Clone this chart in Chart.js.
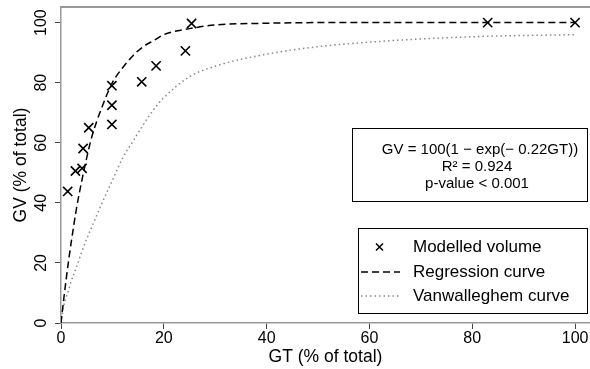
<!DOCTYPE html>
<html>
<head>
<meta charset="utf-8">
<script src="https://cdn.jsdelivr.net/npm/chart.js@4/dist/chart.umd.min.js"></script>
<style>
  html, body { margin: 0; padding: 0; background: #fff; }
  #wrap { width: 590px; height: 369px; }
</style>
</head>
<body>
<div id="wrap"><canvas id="graphic" width="590" height="369"></canvas></div>
<script>
// modelled volumes (GT %, GV %)
const gtModelled = [1.3, 2.8, 4.1, 4.3, 5.4, 9.9, 9.9, 9.9, 15.7, 18.5, 24.2, 25.4, 83, 100];
const gvModelled = [43.8, 50.6, 51.5, 58.1, 65, 66.1, 72.5, 79, 80.3, 85.6, 90.6, 99.7, 100, 100];

// curves
const curveGT = [0, 0.5, 1, 1.5, 2, 3, 4, 5, 6, 8, 10, 12, 14, 16, 18, 20, 25, 30, 40, 50, 60, 80, 100];
const regressionGV = [0, 7.5, 14.5, 21, 27, 38, 47, 55, 62, 72, 80, 85, 89, 92, 94, 96, 98, 99.2, 99.8, 100, 100, 100, 100];
const vanwallGV = [0, 5.5, 8.5, 11, 14, 18.5, 23.5, 28, 32, 40, 47.5, 55, 60.5, 66, 71, 75, 82, 85.5, 89.5, 92, 93.5, 95.3, 96];

const xTicks = [0, 20, 40, 60, 80, 100];
const yTicks = [0, 20, 40, 60, 80, 100];

const legendLabels = ['Modelled volume', 'Regression curve', 'Vanwalleghem curve'];
const noteLines = ['GV = 100(1 \u2212 exp(\u2212 0.22GT))', 'R\u00b2 = 0.924', 'p-value < 0.001'];

const FONT = '"Liberation Sans", Arial, sans-serif';

const pts = (xs, ys) => xs.map((x, i) => ({ x: x, y: ys[i] }));

// no overflow padding for edge tick labels
const noPad = s => { s.paddingLeft = 0; s.paddingRight = 0; s.paddingTop = 0; s.paddingBottom = 0; };

const extras = {
  id: 'extras',
  afterDraw(chart) {
    const ctx = chart.ctx;
    const a = chart.chartArea;
    ctx.save();
    // top frame line
    ctx.strokeStyle = '#999';
    ctx.lineWidth = 2;
    ctx.beginPath();
    ctx.moveTo(a.left, a.top);
    ctx.lineTo(a.right, a.top);
    ctx.stroke();

    // annotation box
    ctx.fillStyle = '#fff';
    ctx.strokeStyle = '#000';
    ctx.lineWidth = 1;
    ctx.fillRect(352.5, 128.5, 235, 73);
    ctx.strokeRect(352.5, 128.5, 235, 73);
    ctx.fillStyle = '#000';
    ctx.font = '15px ' + FONT;
    ctx.textAlign = 'center';
    ctx.textBaseline = 'middle';
    ctx.fillText(noteLines[0], 480, 150);
    ctx.fillText(noteLines[1], 477, 167);
    ctx.fillText(noteLines[2], 477, 184);

    // legend box
    ctx.fillStyle = '#fff';
    ctx.fillRect(358.5, 228.5, 229, 85);
    ctx.strokeRect(358.5, 228.5, 229, 85);
    ctx.fillStyle = '#000';
    ctx.font = '17px ' + FONT;
    ctx.textAlign = 'left';
    const rows = [247, 272, 296];
    legendLabels.forEach((t, i) => ctx.fillText(t, 413, rows[i]));
    // cross
    ctx.lineWidth = 1.5;
    ctx.beginPath();
    ctx.moveTo(376, rows[0] - 3.5); ctx.lineTo(383, rows[0] + 3.5);
    ctx.moveTo(383, rows[0] - 3.5); ctx.lineTo(376, rows[0] + 3.5);
    ctx.stroke();
    // dashed
    ctx.setLineDash([7, 4]);
    ctx.beginPath();
    ctx.moveTo(361, rows[1]); ctx.lineTo(400, rows[1]);
    ctx.stroke();
    // dotted
    ctx.strokeStyle = '#888';
    ctx.setLineDash([1.5, 3]);
    ctx.beginPath();
    ctx.moveTo(361, rows[2]); ctx.lineTo(400, rows[2]);
    ctx.stroke();
    ctx.restore();
  }
};

const ctx = document.getElementById('graphic').getContext('2d');
const myChart = new Chart(ctx, {
  type: 'scatter',
  data: {
    datasets: [
      {
        data: pts(gtModelled, gvModelled),
        pointStyle: 'crossRot',
        pointRadius: 6.5,
        borderColor: '#000',
        borderWidth: 1.6,
        showLine: false
      },
      {
        data: pts(curveGT, regressionGV),
        showLine: true,
        pointRadius: 0,
        borderColor: '#000',
        borderWidth: 1.5,
        borderDash: [7, 4],
        cubicInterpolationMode: 'monotone'
      },
      {
        data: pts(curveGT, vanwallGV),
        showLine: true,
        pointRadius: 0,
        borderColor: '#888',
        borderWidth: 1.5,
        borderDash: [1.5, 3],
        cubicInterpolationMode: 'monotone'
      }
    ]
  },
  options: {
    responsive: false,
    animation: false,
    layout: { autoPadding: false, padding: { top: 7, right: 0, left: 0, bottom: 0 } },
    plugins: { legend: { display: false }, tooltip: { enabled: false } },
    scales: {
      x: {
        type: 'linear',
        min: 0,
        max: 102.9,
        afterBuildTicks: s => { s.ticks = xTicks.map(v => ({ value: v })); },
        afterFit: s => { s.height = 46; noPad(s); },
        grid: { drawOnChartArea: false, drawTicks: true, tickLength: 6, color: '#444', lineWidth: 1 },
        border: { display: true, color: '#999', width: 1.5 },
        ticks: { color: '#000', padding: 0, maxRotation: 0, autoSkip: false, font: { family: FONT, size: 16 } },
        title: { display: true, text: 'GT (% of total)', color: '#000', font: { family: FONT, size: 17.5 }, padding: { top: 0, bottom: 1.5 } }
      },
      y: {
        type: 'linear',
        min: 0,
        max: 105.2,
        afterBuildTicks: s => { s.ticks = yTicks.map(v => ({ value: v })); },
        afterFit: s => { s.width = 61; noPad(s); },
        grid: { drawOnChartArea: false, drawTicks: true, tickLength: 6, color: '#444', lineWidth: 1 },
        border: { display: true, color: '#999', width: 1.5 },
        ticks: { color: '#000', padding: 0, minRotation: 90, maxRotation: 90, autoSkip: false, crossAlign: 'center', font: { family: FONT, size: 16 } },
        title: { display: true, text: 'GV (% of total)', color: '#000', font: { family: FONT, size: 17.5 }, padding: { top: 10.5, bottom: 0 } }
      }
    }
  },
  plugins: [extras]
});
</script>
</body>
</html>
